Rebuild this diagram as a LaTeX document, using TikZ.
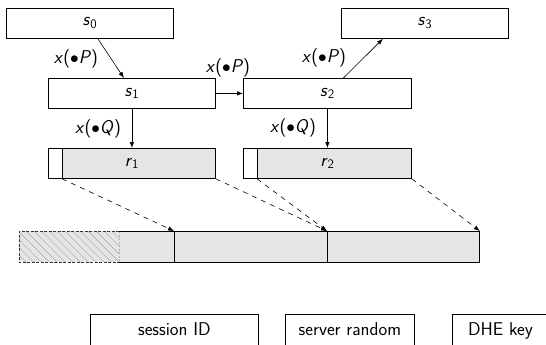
\documentclass[tikz,border=0pt]{standalone}
\usetikzlibrary{arrows.meta,patterns.meta}
\newcommand\vv[1]{\textit{#1}}
\newcommand\lab[1]{\textit{x}(\raisebox{0.05ex}{$\bullet$}\textit{#1})}
\begin{document}
\begin{tikzpicture}[x=1pt,y=-1pt,
  font=\sffamily\fontsize{18.5}{22}\selectfont,
  box/.style={draw, line width=0.8pt, minimum width=167pt, minimum height=30pt, inner sep=0pt, anchor=north west},
  rbox/.style={box, fill=gray!20},
  legbox/.style={box, minimum height=34pt, text height=13pt, text depth=4pt},
  arr/.style={-{Latex[length=6pt,width=4.5pt]}, line width=0.6pt},
  darr/.style={arr, dash pattern=on 5pt off 5pt},
  lbl/.style={inner sep=0pt}]
\useasboundingbox (0,0) rectangle (546,345);
\clip (0,0) rectangle (546,345);

% state boxes
\node[box] (s0) at (6,8) {\vv{s}\textsubscript{0}};
\node[box] (s3) at (341,8) {\vv{s}\textsubscript{3}};
\node[box] (s1) at (48,78) {\vv{s}\textsubscript{1}};
\node[box, minimum width=168pt] (s2) at (243,78) {\vv{s}\textsubscript{2}};

% output boxes
\node[rbox] (r1) at (48,148) {\vv{r}\textsubscript{1}};
\fill[white] (r1.north west) rectangle ([xshift=14pt]r1.south west);
\draw[line width=0.8pt] (r1.north west) rectangle ([xshift=14pt]r1.south west);
\node[rbox, minimum width=168pt] (r2) at (243,148) {\vv{r}\textsubscript{2}};
\fill[white] (r2.north west) rectangle ([xshift=14pt]r2.south west);
\draw[line width=0.8pt] (r2.north west) rectangle ([xshift=14pt]r2.south west);

% labels
\node[lbl] (l1) at (76,59) {\lab{P}};
\node[lbl] (l2) at (228,68) {\lab{P}};
\node[lbl] (l3) at (324,58) {\lab{P}};
\node[lbl] (l4) at (98,129) {\lab{Q}};
\node[lbl] (l5) at (293,128) {\lab{Q}};

% arrows
\draw[arr] ([xshift=8pt]s0.south) -- ([xshift=-8pt]s1.north);
\draw[arr] (s1.east) -- (s2.west);
\draw[arr] ([xshift=16pt]s2.north) -- ([xshift=-42pt]s3.south);
\draw[arr] (s1.south) -- (r1.north);
\draw[arr] (s2.south) -- (r2.north);

% bar
\node[fill=gray!20, minimum width=155pt, minimum height=31pt, inner sep=0pt, anchor=north west] (b0) at (19,231) {};
\fill[pattern={Lines[angle=-45,distance=5.5pt,line width=0.4pt]}, pattern color=gray!70]
  (b0.north west) rectangle ([xshift=100pt]b0.south west);
\draw[gray!60, dash pattern=on 2pt off 1.5pt, line width=0.6pt]
  ([xshift=100pt]b0.north west) -- ([xshift=100pt]b0.south west);
\draw[gray!40!black, dash pattern=on 3pt off 1.5pt, line width=0.7pt]
  ([xshift=100pt]b0.north west) -- (b0.north west) -- (b0.south west) -- ([xshift=100pt]b0.south west);
\draw[line width=0.8pt] ([xshift=100pt]b0.north west) -- (b0.north east) -- (b0.south east) -- ([xshift=100pt]b0.south west);
\node[box, fill=gray!20, minimum width=153pt, minimum height=31pt] (b1) at (174,231) {};
\node[box, fill=gray!20, minimum width=152pt, minimum height=31pt] (b2) at (327,231) {};

% dashed mapping arrows
\draw[darr] ([xshift=14pt]r1.south west) -- (b1.north west);
\draw[darr] (r1.south east) -- (b2.north west);
\draw[darr] ([xshift=14pt]r2.south west) -- (b2.north west);
\draw[darr] (r2.south east) -- (b2.north east);

% bottom legend boxes
\node[legbox, minimum width=168pt] (sid) at (90,314) {session ID};
\node[legbox, minimum width=129pt] (srv) at (285,314) {server random};
\node[legbox, minimum width=96pt] (dhe) at (452,314) {DHE key};
\end{tikzpicture}
\end{document}
